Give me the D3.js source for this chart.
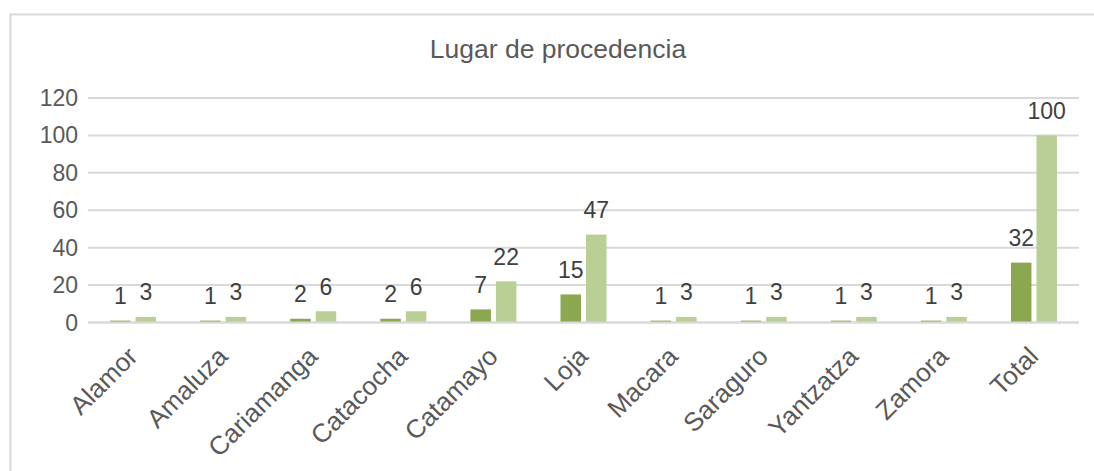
<!DOCTYPE html>
<meta charset="utf-8">
<style>
body { margin: 0; background: #fff; }
svg text { font-family: "Liberation Sans", Arial, sans-serif; }
.grid line { stroke: #d9d9d9; stroke-width: 2; }
.tick-label { fill: #595959; font-size: 23px; }
.val { fill: #404040; font-size: 23px; }
.cat { fill: #595959; font-size: 26px; }
.title { fill: #595959; font-size: 26.5px; }
</style>
<body>
<script src="https://cdn.jsdelivr.net/npm/d3@7"></script>
<script>

var categories = ["Alamor","Amaluza","Cariamanga","Catacocha","Catamayo","Loja","Macara","Saraguro","Yantzatza","Zamora","Total"];
var frecuencia = [1,1,2,2,7,15,1,1,1,1,32];
var porcentaje = [3,3,6,6,22,47,3,3,3,3,100];
var yTicks = [0,20,40,60,80,100,120];
var title = "Lugar de procedencia";

var width = 1094, height = 471;
var plotLeft = 88, plotRight = 1079, plotTop = 98, plotBottom = 322.5;

var svg = d3.select("body").append("svg")
    .attr("width", width)
    .attr("height", height);

// outer chart frame
svg.append("rect")
    .attr("x", 10.5).attr("y", 14.5)
    .attr("width", 1200).attr("height", 600)
    .attr("fill", "none")
    .attr("stroke", "#d9d9d9")
    .attr("stroke-width", 2);

var x = d3.scaleBand()
    .domain(categories)
    .range([plotLeft, plotRight]);

var y = d3.scaleLinear()
    .domain([0, 120])
    .range([plotBottom, plotTop]);

svg.append("g").attr("class","grid")
  .selectAll("line")
    .data(yTicks)
  .enter().append("line")
    .attr("x1", plotLeft).attr("x2", plotRight)
    .attr("y1", function(d){ return y(d); })
    .attr("y2", function(d){ return y(d); });

svg.selectAll(".tick-label")
    .data(yTicks)
  .enter().append("text")
    .attr("class","tick-label")
    .attr("x", 78)
    .attr("y", function(d){ return y(d) + 8; })
    .attr("text-anchor","end")
    .text(function(d){ return d; });

var barW = 20.5, gap = 5;
var series = [
  {values: frecuencia, color: "#8ba74f", off: -(barW + gap/2)},
  {values: porcentaje, color: "#b9cf96", off: gap/2}
];

series.forEach(function(s) {
  var cx = function(d,i){ return x(categories[i]) + x.bandwidth()/2 + s.off; };
  svg.append("g").selectAll("rect")
      .data(s.values)
    .enter().append("rect")
      .attr("x", cx)
      .attr("y", function(d){ return y(d); })
      .attr("width", barW)
      .attr("height", function(d){ return y(0) - y(d); })
      .attr("fill", s.color);

  svg.append("g").selectAll("text")
      .data(s.values)
    .enter().append("text")
      .attr("class","val")
      .attr("x", function(d,i){ return cx(d,i) + barW/2; })
      .attr("y", function(d){ return y(d) - 16.5; })
      .attr("text-anchor","middle")
      .text(function(d){ return d; });
});

// baseline over bars
svg.append("line")
    .attr("x1", plotLeft).attr("x2", plotRight)
    .attr("y1", y(0)).attr("y2", y(0))
    .attr("stroke", "#d9d9d9").attr("stroke-width", 2);

svg.selectAll(".cat")
    .data(categories)
  .enter().append("text")
    .attr("class","cat")
    .attr("text-anchor","end")
    .attr("transform", function(d){
      return "translate(" + (x(d) + x.bandwidth()/2 + 6) + ",358) rotate(-45)";
    })
    .text(function(d){ return d; });

svg.append("text")
    .attr("class","title")
    .attr("x", 558)
    .attr("y", 58)
    .attr("text-anchor","middle")
    .text(title);

</script>
</body>
